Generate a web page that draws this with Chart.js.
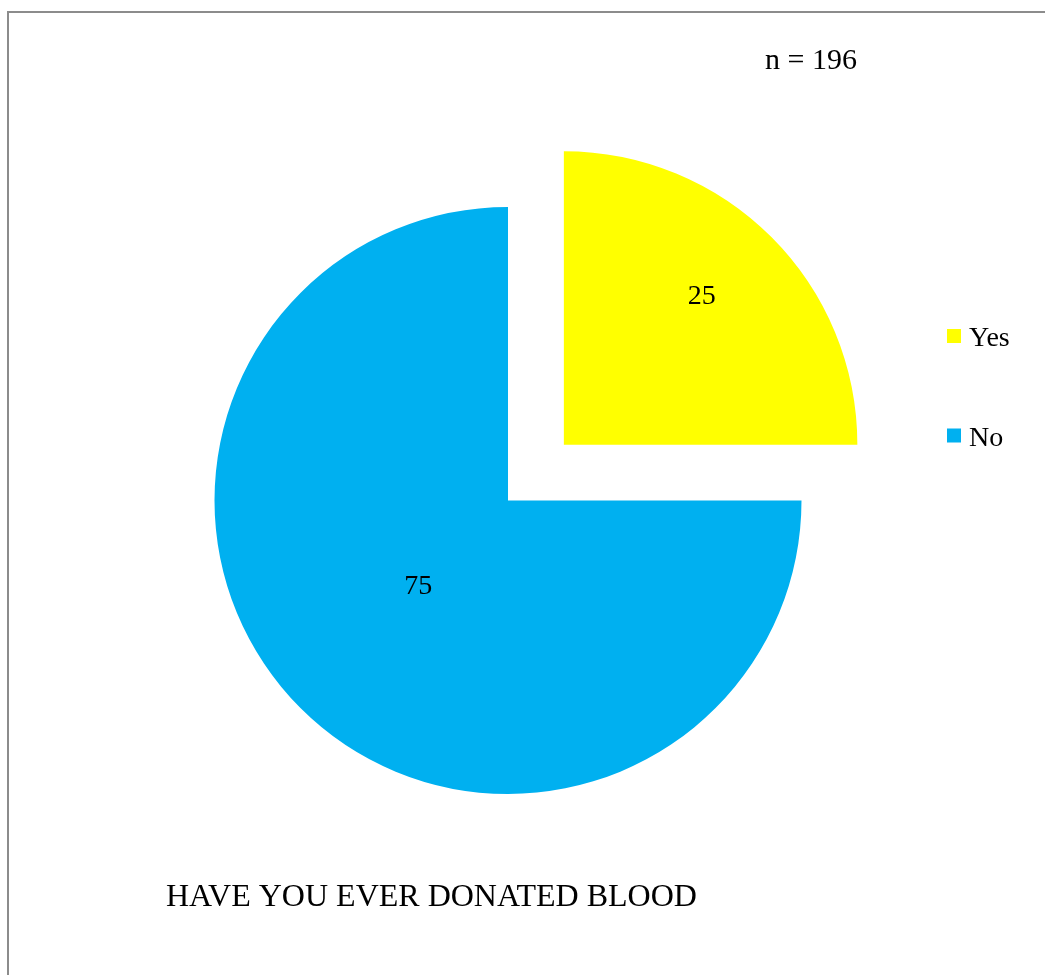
<!DOCTYPE html>
<html>
<head>
<meta charset="utf-8">
<script src="https://cdn.jsdelivr.net/npm/chart.js@4.4.0/dist/chart.umd.min.js"></script>
<style>
  html, body { margin: 0; padding: 0; background: #ffffff; }
  #wrap { position: relative; width: 1045px; height: 975px; }
  canvas { display: block; }
</style>
</head>
<body>
<div id="wrap"><canvas id="c" width="1045" height="975"></canvas></div>
<script>
// ---- data ----
const categories = ['Yes', 'No'];
const values = [25, 75];
const sliceColors = ['#FFFF00', '#00B0F0'];
const sampleNote = 'n = 196';
const chartTitle = 'HAVE YOU EVER DONATED BLOOD';

// ---- styles ----
const FONT = '"Liberation Serif", "Times New Roman", serif';
const explodeOffset = [316, 0];        // Chart.js translates arcs by offset/4
const labelRadiusFrac = [0.694, 0.418];
const labelAngleShift = [-2.4, 2.1];   // degrees

const framePlugin = {
  id: 'frame',
  beforeDraw(chart) {
    const ctx = chart.ctx;
    ctx.save();
    ctx.fillStyle = '#ffffff';
    ctx.fillRect(0, 0, chart.width, chart.height);
    ctx.fillStyle = '#8c8c8c';
    ctx.fillRect(7, 11, chart.width - 7, 2);
    ctx.fillRect(7, 11, 2, chart.height - 11);
    ctx.restore();
  }
};

const textPlugin = {
  id: 'texts',
  afterDatasetsDraw(chart) {
    const ctx = chart.ctx;
    const meta = chart.getDatasetMeta(0);
    ctx.save();
    ctx.fillStyle = '#000000';
    // data labels
    ctx.font = '28px ' + FONT;
    ctx.textAlign = 'center';
    ctx.textBaseline = 'alphabetic';
    meta.data.forEach((arc, i) => {
      const p = arc.getProps(['x', 'y', 'startAngle', 'endAngle', 'outerRadius'], true);
      const mid = (p.startAngle + p.endAngle) / 2;
      const off = (arc.options.offset || 0) / 4;
      const cx = p.x + Math.cos(mid) * off;
      const cy = p.y + Math.sin(mid) * off;
      const a = mid + labelAngleShift[i] * Math.PI / 180;
      const d = labelRadiusFrac[i] * p.outerRadius;
      // place so the digit glyphs are visually centred (digit height ~0.66em)
      ctx.fillText(String(chart.data.datasets[0].data[i]), cx + Math.cos(a) * d, cy + Math.sin(a) * d + 9.5);
    });
    // legend
    ctx.textAlign = 'left';
    ctx.font = '28px ' + FONT;
    chart.data.labels.forEach((lab, i) => {
      const y = 329 + i * 99.5;
      ctx.fillStyle = chart.data.datasets[0].backgroundColor[i];
      ctx.fillRect(947, y, 14, 14);
      ctx.fillStyle = '#000000';
      ctx.fillText(lab, 969, y + 17);
    });
    // note
    ctx.font = '30px ' + FONT;
    ctx.fillText(sampleNote, 765, 69);
    // title
    ctx.font = '32px ' + FONT;
    ctx.fillText(chartTitle, 166, 906);
    ctx.restore();
  }
};

new Chart(document.getElementById('c'), {
  type: 'pie',
  data: {
    labels: categories,
    datasets: [{
      data: values,
      backgroundColor: sliceColors,
      borderWidth: 0,
      offset: explodeOffset,
      radius: 293.5
    }]
  },
  options: {
    responsive: false,
    animation: false,
    events: [],
    layout: { padding: { left: 0, right: 29, top: 26, bottom: 0 } },
    plugins: { legend: { display: false }, tooltip: { enabled: false } }
  },
  plugins: [framePlugin, textPlugin]
});
</script>
</body>
</html>
